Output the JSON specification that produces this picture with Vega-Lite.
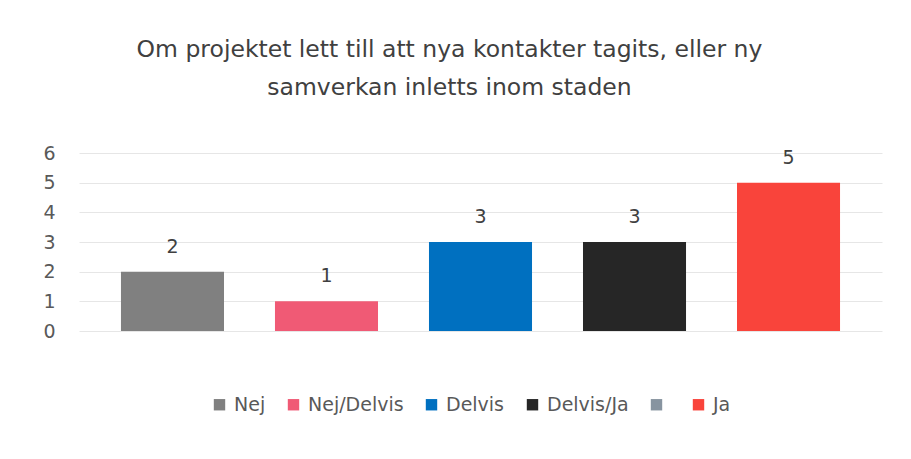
{
  "$schema": "https://vega.github.io/schema/vega-lite/v6.json",
  "autosize": "none",
  "width": 803,
  "height": 178,
  "padding": {"left": 79, "top": 153, "right": 29, "bottom": 128},
  "background": "white",
  "config": {
    "view": {"stroke": null},
    "font": "DejaVu Sans"
  },
  "title": {
    "text": ["Om projektet lett till att nya kontakter tagits, eller ny", "samverkan inletts inom staden"],
    "anchor": "middle",
    "dx": -31,
    "offset": 45,
    "font": "DejaVu Sans",
    "fontSize": 23.5,
    "fontWeight": "normal",
    "color": "#404040",
    "lineHeight": 38
  },
  "data": {
    "values": [
      {"kategori": "Nej", "antal": 2},
      {"kategori": "Nej/Delvis", "antal": 1},
      {"kategori": "Delvis", "antal": 3},
      {"kategori": "Delvis/Ja", "antal": 3},
      {"kategori": "Ja", "antal": 5}
    ]
  },
  "encoding": {
    "x": {
      "field": "kategori",
      "type": "nominal",
      "sort": ["Nej", "Nej/Delvis", "Delvis", "Delvis/Ja", "Ja"],
      "scale": {"paddingInner": 0.331, "paddingOuter": 0.2725},
      "axis": null
    },
    "y": {
      "field": "antal",
      "type": "quantitative",
      "scale": {"domain": [0, 6]},
      "axis": {
        "title": null,
        "values": [0, 1, 2, 3, 4, 5, 6],
        "domain": false,
        "ticks": false,
        "labelPadding": 24,
        "labelFont": "DejaVu Sans",
        "labelFontSize": 19,
        "labelColor": "#595959",
        "gridColor": "#e6e6e6",
        "gridWidth": 1
      }
    }
  },
  "layer": [
    {
      "mark": {"type": "bar"},
      "encoding": {
        "color": {
          "field": "kategori",
          "type": "nominal",
          "scale": {
            "domain": ["Nej", "Nej/Delvis", "Delvis", "Delvis/Ja", " ", "Ja"],
            "range": ["#808080", "#F05A75", "#0070C0", "#262626", "#8794A0", "#F9443B"]
          },
          "legend": {
            "title": null,
            "orient": "none",
            "legendX": 131,
            "legendY": 242,
            "direction": "horizontal",
            "symbolType": "square",
            "symbolSize": 130,
            "symbolStrokeWidth": 0,
            "symbolOpacity": 1,
            "labelOffset": 5,
            "columnPadding": 18,
            "labelFont": "DejaVu Sans",
            "labelFontSize": 19,
            "labelColor": "#595959"
          }
        }
      }
    },
    {
      "mark": {"type": "text", "baseline": "alphabetic", "dy": -19, "fontSize": 19, "font": "DejaVu Sans", "color": "#404040"},
      "encoding": {"text": {"field": "antal", "type": "quantitative"}}
    }
  ]
}
